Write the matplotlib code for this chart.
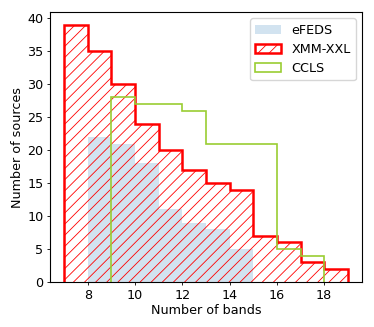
import matplotlib
matplotlib.use("Agg")
import matplotlib.pyplot as plt
import numpy as np

efeds_edges = [8, 9, 10, 11, 12, 13, 14, 15]
efeds_counts = [22, 21, 18, 11, 9, 8, 5]
xxl_edges = [7, 8, 9, 10, 11, 12, 13, 14, 15, 16, 17, 18, 19]
xxl_counts = [39, 35, 30, 24, 20, 17, 15, 14, 7, 6, 3, 2]
ccls_edges = [9, 10, 11, 12, 13, 14, 15, 16, 17, 18]
ccls_counts = [28, 27, 27, 26, 21, 21, 21, 5, 4]

def centers(e):
    e = np.asarray(e, float)
    return (e[:-1] + e[1:]) / 2

plt.rcParams['hatch.linewidth'] = 0.6
plt.rcParams['axes.linewidth'] = 0.8

fs = 9.2
fig = plt.figure(figsize=(3.74, 3.27), dpi=100)
ax = fig.add_axes([50/374, 1-282/327, 312/374, 270/327])

ax.hist(centers(efeds_edges), bins=efeds_edges, weights=efeds_counts,
        color='C0', alpha=0.2, label='eFEDS')
ax.hist(centers(xxl_edges), bins=xxl_edges, weights=xxl_counts,
        histtype='step', color='red', hatch='///', lw=1.8, label='XMM-XXL')
ax.hist(centers(ccls_edges), bins=ccls_edges, weights=ccls_counts,
        histtype='step', color='yellowgreen', lw=1.2, label='CCLS')

ax.set_xticks([8, 10, 12, 14, 16, 18])
ax.set_xlabel('Number of bands', fontsize=fs, labelpad=2)
ax.set_ylabel('Number of sources', fontsize=fs, labelpad=2)
ax.tick_params(labelsize=fs, length=2.4, pad=2.4, width=0.6)
ax.legend(loc='upper right', fontsize=fs)
fig.savefig('out.png', dpi=100)
